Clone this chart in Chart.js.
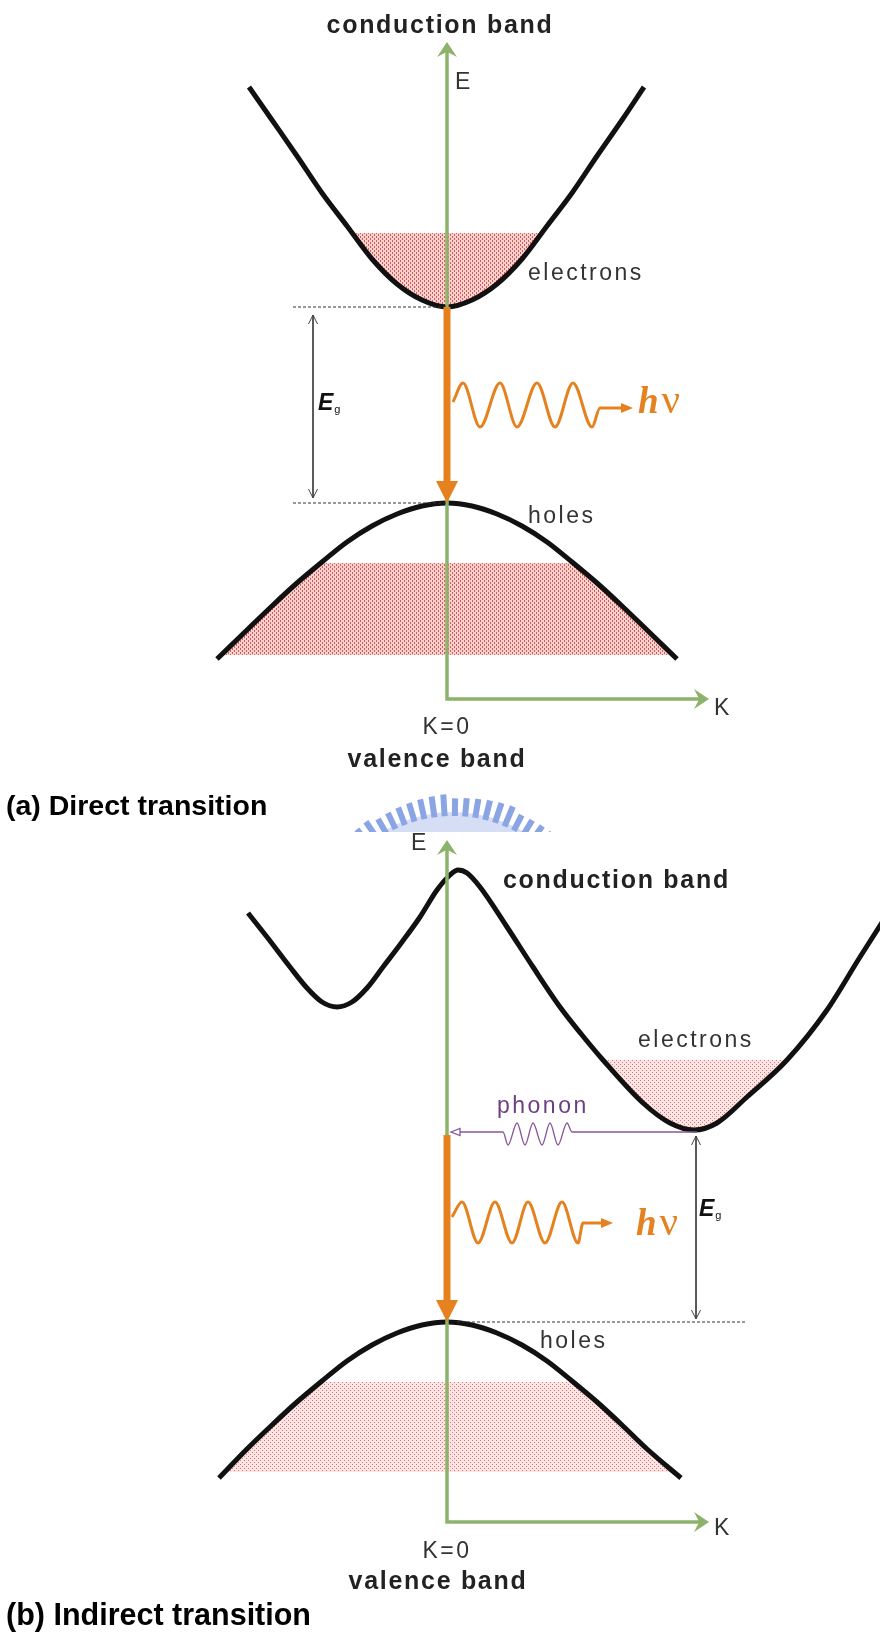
<!DOCTYPE html>
<html>
<head>
<meta charset="utf-8">
<script src="https://cdn.jsdelivr.net/npm/chart.js@4.4.1/dist/chart.umd.min.js"></script>
<style>
  html, body { margin: 0; padding: 0; background: #fff; }
  canvas { display: block; }
</style>
</head>
<body>
<canvas id="bands" width="880" height="1638"></canvas>
<script>
// E-K band diagrams, K along x and E along y.
// E = 0 sits at the valence band top of each panel.

// (a) direct transition
const condA = [[-1.98,4.16],[-1.75,3.83],[-1.5,3.47],[-1.25,3.10],[-1.0,2.77],[-0.75,2.44],[-0.5,2.19],[-0.25,2.03],[0,1.96],[0.25,2.03],[0.5,2.19],[0.75,2.44],[1.0,2.77],[1.25,3.10],[1.5,3.47],[1.75,3.83],[1.97,4.16]];
const valA = [[-2.3,-1.56],[-2.0,-1.27],[-1.75,-1.03],[-1.5,-0.80],[-1.25,-0.59],[-1.0,-0.39],[-0.75,-0.23],[-0.5,-0.11],[-0.25,-0.03],[0,0],[0.25,-0.03],[0.5,-0.11],[0.75,-0.23],[1.0,-0.39],[1.25,-0.59],[1.5,-0.80],[1.75,-1.03],[2.0,-1.27],[2.3,-1.56]];
const holesA = [[-2.26,-1.52],[-2.0,-1.27],[-1.75,-1.03],[-1.5,-0.80],[-1.24,-0.60],[1.24,-0.60],[1.5,-0.80],[1.75,-1.03],[2.0,-1.27],[2.26,-1.52]];
const electronTopA = 2.70, holeBottomA = -1.52;
const dropA = [[0,1.96],[0,0]];
const photonA = [[0.06,1.01],[0.16,1.20],[0.33,0.76],[0.53,1.20],[0.70,0.76],[0.90,1.20],[1.08,0.76],[1.26,1.20],[1.45,0.76],[1.53,0.95],[1.86,0.95]];
const gapA = [[-1.34,1.88],[-1.34,0.05]];
const edgeCondA = [[-1.54,1.96],[0,1.96]];
const edgeValA = [[-1.54,0],[0,0]];
const axisA = [[0,4.61],[0,-1.96],[2.62,-1.96]];

// (b) indirect transition
const condB = [[-1.99,4.09],[-1.8,3.85],[-1.57,3.55],[-1.4,3.34],[-1.25,3.20],[-1.1,3.15],[-0.95,3.20],[-0.8,3.34],[-0.64,3.55],[-0.45,3.80],[-0.27,4.05],[-0.1,4.32],[0.03,4.47],[0.11,4.52],[0.2,4.49],[0.33,4.35],[0.6,3.95],[0.86,3.55],[1.13,3.15],[1.35,2.87],[1.56,2.62],[1.96,2.19],[2.23,1.99],[2.47,1.92],[2.7,1.99],[3.0,2.25],[3.4,2.62],[3.8,3.12],[4.13,3.65],[4.45,4.15]];
const valB = [[-2.28,-1.56],[-2.0,-1.27],[-1.75,-1.03],[-1.5,-0.80],[-1.25,-0.59],[-1.0,-0.39],[-0.75,-0.23],[-0.5,-0.11],[-0.25,-0.03],[0,0],[0.25,-0.03],[0.5,-0.11],[0.75,-0.23],[1.0,-0.39],[1.25,-0.59],[1.5,-0.80],[1.75,-1.03],[2.0,-1.27],[2.34,-1.56]];
const holesB = [[-2.24,-1.50],[-2.0,-1.27],[-1.75,-1.03],[-1.5,-0.80],[-1.24,-0.60],[1.24,-0.60],[1.5,-0.80],[1.75,-1.03],[2.0,-1.27],[2.28,-1.50]];
const electronTopB = 2.62, holeBottomB = -1.50;
const dropB = [[0,1.87],[0,0]];
const photonB = [[0.05,1.05],[0.15,1.20],[0.31,0.79],[0.48,1.20],[0.65,0.79],[0.81,1.20],[0.98,0.79],[1.15,1.20],[1.31,0.79],[1.36,0.99],[1.66,0.99]];
const phononB = [[0.04,1.90],[0.56,1.90],[0.61,1.77],[0.70,1.99],[0.78,1.77],[0.86,1.99],[0.95,1.77],[1.03,1.99],[1.11,1.77],[1.20,1.99],[1.25,1.90],[2.50,1.90]];
const gapB = [[2.49,1.86],[2.49,0.03]];
const edgeValB = [[0.1,0],[3.0,0]];
const axisB = [[0,4.82],[0,-2.0],[2.62,-2.0]];

// text: [text, K, E, style]
const labelsA = [
  ['conduction band', -0.07, 4.70, 'bold'],
  ['E', 0.08, 4.14, 'plain'],
  ['electrons', 0.81, 2.23, 'plain'],
  ['holes', 0.81, -0.20, 'plain'],
  ['K=0', 0, -2.31, 'plainC'],
  ['K', 2.67, -2.12, 'plain'],
  ['valence band', -0.10, -2.64, 'bold'],
  ['(a) Direct transition', -4.41, -3.12, 'titleA']
];
const labelsB = [
  ['E', -0.36, 4.72, 'plain'],
  ['conduction band', 0.56, 4.34, 'boldL'],
  ['electrons', 1.91, 2.75, 'plain'],
  ['phonon', 0.50, 2.09, 'phonon'],
  ['holes', 0.93, -0.26, 'plain'],
  ['K=0', 0, -2.36, 'plainC'],
  ['K', 2.67, -2.13, 'plain'],
  ['valence band', -0.09, -2.67, 'bold'],
  ['(b) Indirect transition', -4.41, -3.03, 'titleB']
];
const gapLabels = [[-1.29, 0.93, 'ya'], [2.52, 1.06, 'yb']];
const photonLabels = [[1.91, 0.90, 'ya'], [1.89, 0.87, 'yb']];
const crestAt = [0.06, -4.46], crestCut = -3.29;

const ORANGE = '#e5821f', GREEN = '#8db26b', PURPLE = '#87579a', CLEAR = 'rgba(0,0,0,0)';
const SANS = '"Liberation Sans", Arial, sans-serif';
const SERIF = '"Liberation Serif", "Times New Roman", serif';

const canvas = document.getElementById('bands');
const ctx0 = canvas.getContext('2d');

function dots(size, bg, cells, color) {
  const tile = document.createElement('canvas');
  tile.width = size; tile.height = size;
  const g = tile.getContext('2d');
  g.fillStyle = bg;
  g.fillRect(0, 0, size, size);
  g.fillStyle = color;
  cells.forEach(([x, y]) => g.fillRect(x, y, 1, 1));
  return ctx0.createPattern(tile, 'repeat');
}
const dotsDense = dots(4, '#f6d2d1', [[0,0],[0,1],[2,2],[2,3]], '#df5550');
const dotsLight = dots(4, '#fbe6e5', [[0,0],[2,2]], '#e5726e');

function line(arr, yAxisID, style) {
  return Object.assign({
    data: arr.map(([x, y]) => ({x, y})),
    xAxisID: 'x', yAxisID,
    pointRadius: 0, pointHoverRadius: 0,
    fill: false, tension: 0, borderColor: '#111', borderWidth: 1
  }, style);
}

const greenHead = {type: 'solid', len: 15, half: 10, notch: 0.35, cut: 0.6};
const gapHead = {type: 'open', len: 9, half: 4.5};

// first dataset is drawn on top
const datasets = [
  line(dropA, 'ya', {borderColor: ORANGE, borderWidth: 7, arrowEnd: {type: 'solid', len: 22, half: 11, cut: 1}}),
  line(dropB, 'yb', {borderColor: ORANGE, borderWidth: 7, arrowEnd: {type: 'solid', len: 22, half: 11, cut: 1}}),
  line(photonA, 'ya', {borderColor: ORANGE, borderWidth: 3, cubicInterpolationMode: 'monotone', arrowEnd: {type: 'solid', len: 12, half: 5, cut: 1}}),
  line(photonB, 'yb', {borderColor: ORANGE, borderWidth: 3, cubicInterpolationMode: 'monotone', arrowEnd: {type: 'solid', len: 12, half: 5, cut: 1}}),
  line(phononB, 'yb', {borderColor: PURPLE, borderWidth: 1.3, cubicInterpolationMode: 'monotone', arrowStart: {type: 'hollow', len: 9, half: 3.5}}),
  line(gapA, 'ya', {borderColor: '#444', borderWidth: 1, arrowStart: gapHead, arrowEnd: gapHead}),
  line(gapB, 'yb', {borderColor: '#444', borderWidth: 1, arrowStart: gapHead, arrowEnd: gapHead}),
  line(edgeCondA, 'ya', {borderColor: '#333', borderWidth: 1.2, borderDash: [3, 2]}),
  line(edgeValA, 'ya', {borderColor: '#333', borderWidth: 1.2, borderDash: [3, 2]}),
  line(edgeValB, 'yb', {borderColor: '#333', borderWidth: 1.2, borderDash: [3, 2]}),
  line(axisA, 'ya', {borderColor: GREEN, borderWidth: 3.5, borderJoinStyle: 'miter', arrowStart: greenHead, arrowEnd: greenHead}),
  line(axisB, 'yb', {borderColor: GREEN, borderWidth: 3.5, borderJoinStyle: 'miter', arrowStart: greenHead, arrowEnd: greenHead}),
  line(condA, 'ya', {borderColor: '#111', borderWidth: 5, cubicInterpolationMode: 'monotone',
    fill: {target: {value: electronTopA}, above: CLEAR, below: dotsDense}}),
  line(valA, 'ya', {borderColor: '#111', borderWidth: 5, cubicInterpolationMode: 'monotone'}),
  line(condB, 'yb', {borderColor: '#111', borderWidth: 5, cubicInterpolationMode: 'monotone',
    fill: {target: {value: electronTopB}, above: CLEAR, below: dotsLight}}),
  line(valB, 'yb', {borderColor: '#111', borderWidth: 5, cubicInterpolationMode: 'monotone'}),
  line(holesA, 'ya', {borderColor: CLEAR, borderWidth: 0, backgroundColor: dotsDense, fill: {value: holeBottomA}}),
  line(holesB, 'yb', {borderColor: CLEAR, borderWidth: 0, backgroundColor: dotsLight, fill: {value: holeBottomB}})
];

function headEnds(ds, pts) {
  const out = [];
  const n = pts.length;
  if (ds.arrowEnd && n > 1) out.push([ds.arrowEnd, pts[n - 1], pts[n - 2]]);
  if (ds.arrowStart && n > 1) out.push([ds.arrowStart, pts[0], pts[1]]);
  return out;
}
function dirOf(tip, from) {
  const dx = tip.x - from.x, dy = tip.y - from.y;
  const d = Math.hypot(dx, dy) || 1;
  return [dx / d, dy / d];
}

// arrowheads: hide the line under the head, then draw the head
const arrowheads = {
  id: 'arrowheads',
  beforeDatasetDraw(chart, args) {
    const ds = chart.data.datasets[args.index];
    if (!ds.arrowStart && !ds.arrowEnd) return;
    const ctx = chart.ctx;
    ctx.save();
    ctx.beginPath();
    ctx.rect(0, 0, chart.width, chart.height);
    headEnds(ds, args.meta.data).forEach(([spec, tip, from]) => {
      if (!spec.cut) return;
      const [ux, uy] = dirOf(tip, from);
      const px = -uy, py = ux, w = spec.half + 1;
      const bx = tip.x - ux * spec.len * spec.cut, by = tip.y - uy * spec.len * spec.cut;
      const tx = tip.x + ux * 2, ty = tip.y + uy * 2;
      ctx.moveTo(bx + px * w, by + py * w);
      ctx.lineTo(tx + px * w, ty + py * w);
      ctx.lineTo(tx - px * w, ty - py * w);
      ctx.lineTo(bx - px * w, by - py * w);
      ctx.closePath();
    });
    ctx.clip('evenodd');
  },
  afterDatasetDraw(chart, args) {
    const ds = chart.data.datasets[args.index];
    if (!ds.arrowStart && !ds.arrowEnd) return;
    const ctx = chart.ctx;
    ctx.restore();
    ctx.save();
    headEnds(ds, args.meta.data).forEach(([spec, tip, from]) => {
      const [ux, uy] = dirOf(tip, from);
      const px = -uy, py = ux;
      const bx = tip.x - ux * spec.len, by = tip.y - uy * spec.len;
      ctx.beginPath();
      if (spec.type === 'open') {
        ctx.moveTo(bx + px * spec.half, by + py * spec.half);
        ctx.lineTo(tip.x, tip.y);
        ctx.lineTo(bx - px * spec.half, by - py * spec.half);
        ctx.strokeStyle = ds.borderColor;
        ctx.lineWidth = ds.borderWidth;
        ctx.stroke();
      } else if (spec.type === 'hollow') {
        ctx.moveTo(tip.x, tip.y);
        ctx.lineTo(bx + px * spec.half, by + py * spec.half);
        ctx.lineTo(bx - px * spec.half, by - py * spec.half);
        ctx.closePath();
        ctx.fillStyle = '#fff';
        ctx.fill();
        ctx.strokeStyle = ds.borderColor;
        ctx.lineWidth = ds.borderWidth;
        ctx.stroke();
      } else {
        const nk = spec.len * (1 - (spec.notch || 0));
        ctx.moveTo(tip.x, tip.y);
        ctx.lineTo(bx + px * spec.half, by + py * spec.half);
        ctx.lineTo(tip.x - ux * nk, tip.y - uy * nk);
        ctx.lineTo(bx - px * spec.half, by - py * spec.half);
        ctx.closePath();
        ctx.fillStyle = ds.borderColor;
        ctx.fill();
      }
    });
    ctx.restore();
  }
};

// the faint blue seal printed behind the gap between the panels
const crest = {
  id: 'crest',
  beforeDatasetsDraw(chart) {
    const ctx = chart.ctx;
    const cx = chart.scales.x.getPixelForValue(crestAt[0]);
    const cy = chart.scales.ya.getPixelForValue(crestAt[1]);
    const cut = chart.scales.ya.getPixelForValue(crestCut);
    ctx.save();
    ctx.beginPath();
    ctx.rect(0, 0, chart.width, cut);
    ctx.clip();
    ctx.beginPath();
    ctx.arc(cx, cy, 137, Math.PI, 2 * Math.PI);
    ctx.arc(cx, cy, 105, 2 * Math.PI, Math.PI, true);
    ctx.closePath();
    ctx.fillStyle = '#d5def5';
    ctx.fill();
    ctx.strokeStyle = '#8aa4e4';
    ctx.lineWidth = 6;
    for (let a = 196; a <= 344; a += 4.4) {
      const r = a * Math.PI / 180;
      const outer = 150 + ((a * 7) % 5);
      ctx.beginPath();
      ctx.moveTo(cx + Math.cos(r) * 133, cy + Math.sin(r) * 133);
      ctx.lineTo(cx + Math.cos(r) * outer, cy + Math.sin(r) * outer);
      ctx.stroke();
    }
    ctx.restore();
  }
};

const styles = {
  bold:   {font: 'bold 25px ' + SANS, color: '#222', align: 'center', ls: '1.7px'},
  boldL:  {font: 'bold 25px ' + SANS, color: '#222', align: 'left', ls: '1.7px'},
  plain:  {font: '23px ' + SANS, color: '#333', align: 'left', ls: '2.5px'},
  plainC: {font: '23px ' + SANS, color: '#333', align: 'center', ls: '2.5px'},
  phonon: {font: '23px ' + SANS, color: '#6e3f80', align: 'left', ls: '2.5px'},
  titleA: {font: 'bold 28.5px ' + SANS, color: '#000', align: 'left', ls: '0px'},
  titleB: {font: 'bold 30.5px ' + SANS, color: '#000', align: 'left', ls: '0px'}
};

function drawParts(ctx, x, y, parts, align) {
  let total = 0;
  parts.forEach(p => { ctx.font = p.font; ctx.letterSpacing = p.ls || '0px'; p.w = ctx.measureText(p.t).width; total += p.w + (p.gap || 0); });
  let cx = align === 'center' ? x - total / 2 : x;
  parts.forEach(p => {
    ctx.font = p.font;
    ctx.letterSpacing = p.ls || '0px';
    ctx.fillStyle = p.color;
    ctx.fillText(p.t, cx, y + (p.dy || 0));
    cx += p.w + (p.gap || 0);
  });
}

const labels = {
  id: 'labels',
  afterDatasetsDraw(chart) {
    const ctx = chart.ctx;
    const sx = chart.scales.x;
    ctx.save();
    ctx.textAlign = 'left';
    ctx.textBaseline = 'alphabetic';
    [[labelsA, 'ya'], [labelsB, 'yb']].forEach(([list, axis]) => {
      list.forEach(([t, k, e, kind]) => {
        const s = styles[kind];
        drawParts(ctx, sx.getPixelForValue(k), chart.scales[axis].getPixelForValue(e),
          [{t, font: s.font, color: s.color, ls: s.ls}], s.align);
      });
    });
    gapLabels.forEach(([k, e, axis]) => {
      drawParts(ctx, sx.getPixelForValue(k), chart.scales[axis].getPixelForValue(e), [
        {t: 'E', font: 'italic bold 23px ' + SANS, color: '#111', gap: 1},
        {t: 'g', font: '11px ' + SANS, color: '#111', dy: 3}
      ], 'left');
    });
    photonLabels.forEach(([k, e, axis]) => {
      drawParts(ctx, sx.getPixelForValue(k), chart.scales[axis].getPixelForValue(e), [
        {t: 'h', font: 'italic bold 37px ' + SERIF, color: ORANGE, gap: 3},
        {t: 'ν', font: '41px ' + SERIF, color: ORANGE}
      ], 'left');
    });
    ctx.restore();
  }
};

new Chart(canvas, {
  type: 'line',
  data: {datasets},
  options: {
    responsive: false,
    devicePixelRatio: 1,
    animation: false,
    events: [],
    layout: {padding: 0, autoPadding: false},
    plugins: {legend: {display: false}, tooltip: {enabled: false}, title: {display: false}},
    scales: {
      x: {type: 'linear', min: -4.47, max: 4.33, display: false},
      ya: {type: 'linear', axis: 'y', min: -11.35, max: 5.03, display: false},
      yb: {type: 'linear', axis: 'y', min: -3.16, max: 13.22, display: false}
    }
  },
  plugins: [crest, arrowheads, labels]
});
</script>
</body>
</html>
